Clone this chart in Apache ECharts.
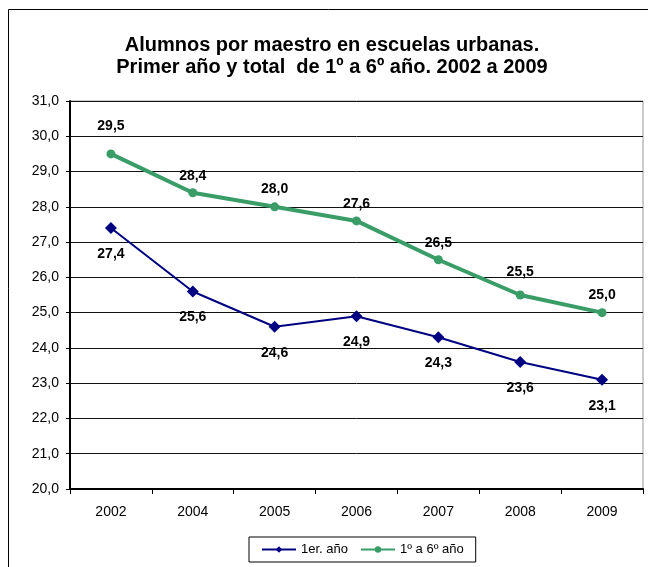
<!DOCTYPE html>
<html>
<head>
<meta charset="utf-8">
<script src="https://cdn.jsdelivr.net/npm/echarts@6/dist/echarts.min.js"></script>
<style>
  html, body { margin: 0; padding: 0; background: #fff; }
  #chart { width: 648px; height: 567px; }
</style>
</head>
<body>
<div id="chart"></div>
<script>
// categorías (años)
var years = ['2002', '2004', '2005', '2006', '2007', '2008', '2009']

// alumnos por maestro
var primerAnio = [27.4, 25.6, 24.6, 24.9, 24.3, 23.6, 23.1]
var totalAnios = [29.5, 28.4, 28.0, 27.6, 26.5, 25.5, 25.0]

var seriesNames = ['1er. año', '1º a 6º año']

// separación de las etiquetas de la serie verde (como en el original)
var labelGapTotal = [16, 5, 6, 5, 5, 11, 6]

var fmt = function (v) {
  return Number(v).toFixed(1).replace('.', ',')
}

var totalData = totalAnios.map(function (v, i) {
  return { value: v, label: { distance: labelGapTotal[i] } }
})

var option = {
  backgroundColor: '#fff',
  animation: false,
  textStyle: { fontFamily: 'Liberation Sans, Arial, sans-serif' },
  title: {
    text: 'Alumnos por maestro en escuelas urbanas.\nPrimer año y total  de 1º a 6º año. 2002 a 2009',
    left: 327,
    top: 29,
    textAlign: 'center',
    textStyle: {
      fontSize: 20,
      fontWeight: 'bold',
      color: '#000',
      lineHeight: 22
    }
  },
  graphic: [
    {
      type: 'rect',
      shape: { x: 8.5, y: 9.5, width: 700, height: 700 },
      style: { fill: 'none', stroke: '#000', lineWidth: 1 },
      z: -1
    }
  ],
  legend: {
    left: 249,
    top: 537,
    padding: [6, 12, 6, 12],
    borderColor: '#000',
    borderWidth: 1,
    itemGap: 12,
    itemWidth: 34,
    itemHeight: 8,
    textStyle: { fontSize: 13, color: '#000' },
    data: seriesNames
  },
  grid: {
    left: 70,
    right: 5,
    top: 101,
    bottom: 78,
    show: true,
    borderColor: '#999',
    borderWidth: 1
  },
  xAxis: {
    type: 'category',
    data: years,
    boundaryGap: true,
    axisLine: { lineStyle: { color: '#000', width: 2 } },
    axisTick: { show: true, length: 5, lineStyle: { color: '#000' } },
    axisLabel: { fontSize: 14, color: '#000', margin: 16 }
  },
  yAxis: {
    type: 'value',
    min: 20,
    max: 31,
    interval: 1,
    axisLine: { show: true, lineStyle: { color: '#000', width: 2 } },
    axisTick: { show: true, length: 4, lineStyle: { color: '#000' } },
    axisLabel: {
      fontSize: 14,
      color: '#000',
      margin: 11,
      formatter: fmt
    },
    splitLine: { lineStyle: { color: '#111', width: 1 } }
  },
  series: [
    {
      name: seriesNames[0],
      type: 'line',
      data: primerAnio,
      symbol: 'diamond',
      symbolSize: 12,
      color: '#000080',
      lineStyle: { color: '#000080', width: 2 },
      itemStyle: { color: '#000080' },
      label: {
        show: true,
        position: 'bottom',
        distance: 13,
        fontSize: 14,
        fontWeight: 'bold',
        color: '#000',
        formatter: function (p) { return fmt(p.value) }
      },
      z: 3
    },
    {
      name: seriesNames[1],
      type: 'line',
      data: totalData,
      symbol: 'circle',
      symbolSize: 9,
      color: '#3a9d68',
      lineStyle: { color: '#3a9d68', width: 4 },
      itemStyle: { color: '#3a9d68' },
      label: {
        show: true,
        position: 'top',
        distance: 10,
        fontSize: 14,
        fontWeight: 'bold',
        color: '#000',
        formatter: function (p) { return fmt(p.value) }
      },
      z: 3
    }
  ]
}

echarts.init(document.getElementById('chart')).setOption(option)
</script>
</body>
</html>
